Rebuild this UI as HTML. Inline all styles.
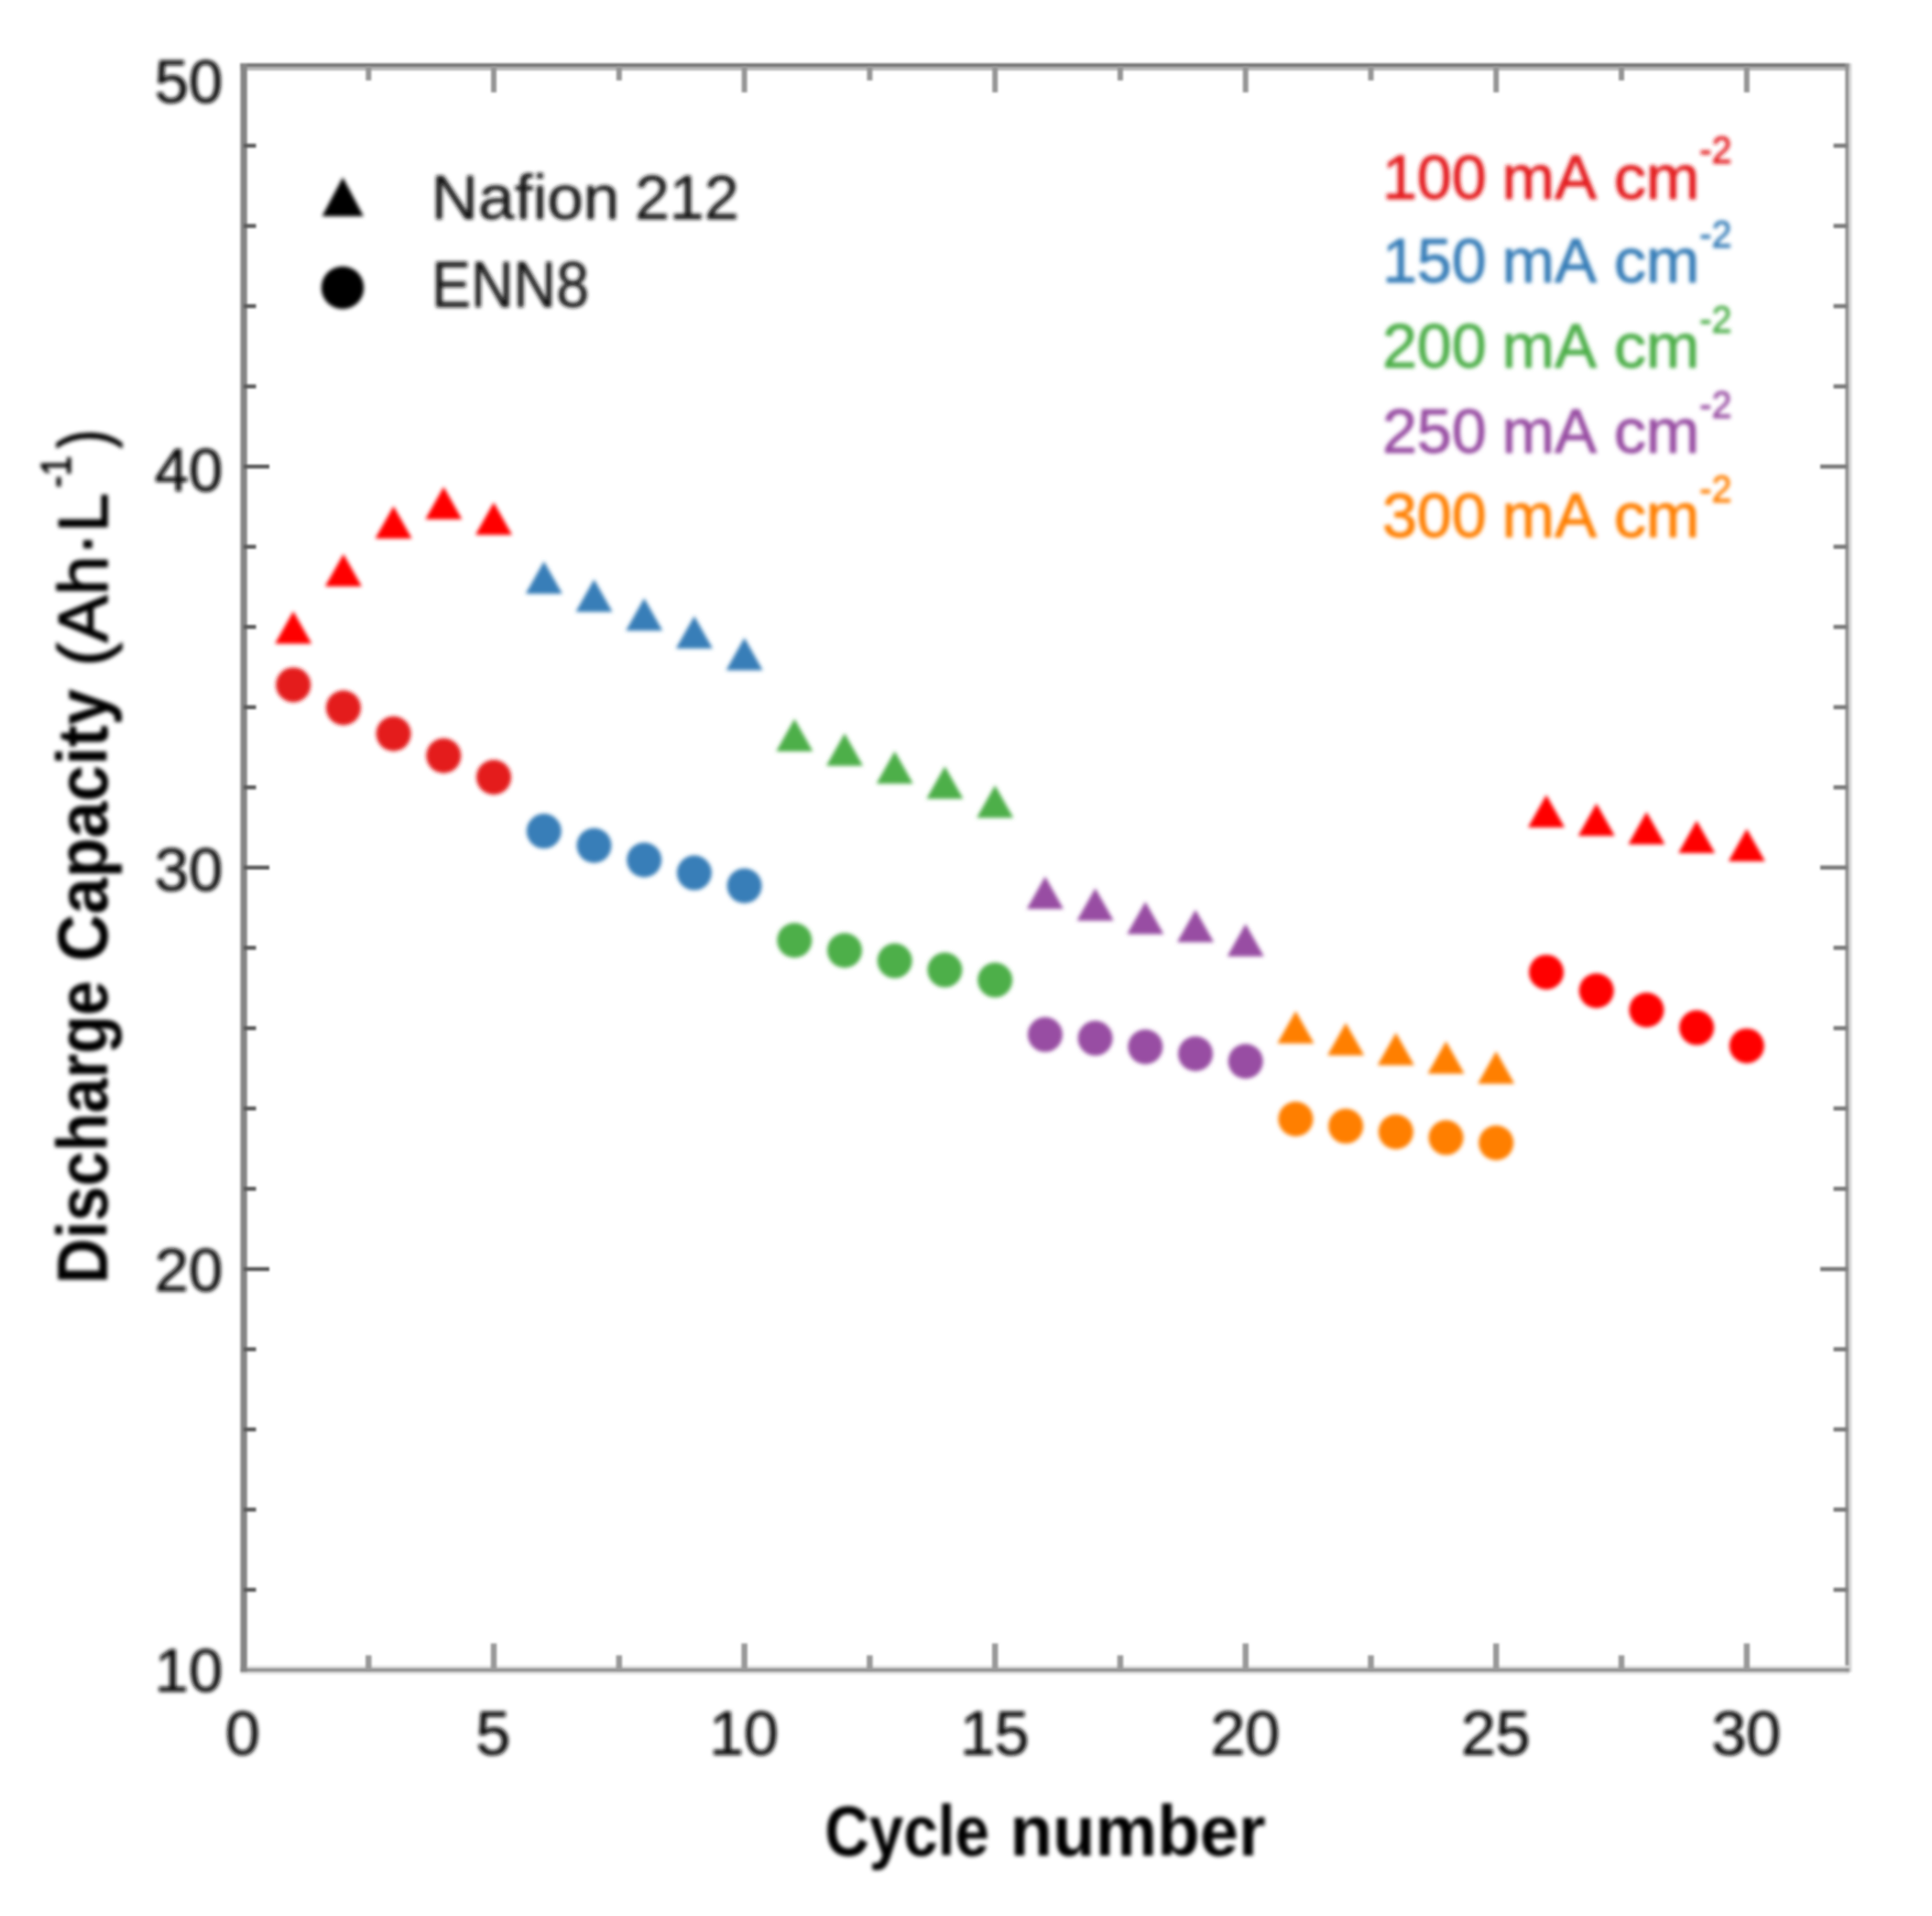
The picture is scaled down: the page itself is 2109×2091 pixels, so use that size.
<!DOCTYPE html>
<html lang="en"><head><meta charset="utf-8"><title>Discharge Capacity vs Cycle number</title>
<style>html,body{margin:0;padding:0;background:#fff}body{width:2109px;height:2091px;overflow:hidden}svg{display:block}</style>
</head><body>
<svg width="2109" height="2091" viewBox="0 0 2109 2091" font-family="'Liberation Sans', Arial, sans-serif">
<defs><filter id="bl" x="-2%" y="-2%" width="104%" height="104%"><feGaussianBlur stdDeviation="2.0"/></filter><filter id="bf" x="-2%" y="-2%" width="104%" height="104%"><feGaussianBlur stdDeviation="0.9"/></filter><filter id="bt" x="-2%" y="-2%" width="104%" height="104%"><feGaussianBlur stdDeviation="1.2"/></filter></defs>
<rect width="2109" height="2091" fill="#fff"/>
<g id="frame" filter="url(#bf)">
<rect x="262.4" y="69" width="1756.3" height="4.6" fill="#777"/>
<rect x="262.4" y="73.6" width="1756.3" height="3.4" fill="#b8b8b8"/>
<rect x="2014.3" y="69" width="4.2" height="1756.0" fill="#929292"/>
<rect x="2018.8" y="69" width="2.6" height="1756.0" fill="#d8d8d8"/>
<rect x="262.4" y="1820.2" width="1756.4" height="4.6" fill="#919191"/>
<rect x="262.4" y="1817.7" width="1756.4" height="2.5" fill="#e4e4e4"/>
<rect x="262.4" y="1824.8" width="1756.4" height="2.5" fill="#e4e4e4"/>
<rect x="262.4" y="69" width="7.4" height="1756.0" fill="#868686"/>
</g>
<g id="ticks" filter="url(#bt)">
<line x1="266.0" y1="1735.0" x2="279.5" y2="1735.0" stroke="#5a5a5a" stroke-width="4.4"/>
<line x1="2016.5" y1="1735.0" x2="2001.5" y2="1735.0" stroke="#7a7a7a" stroke-width="4.6"/>
<line x1="266.0" y1="1647.5" x2="279.5" y2="1647.5" stroke="#5a5a5a" stroke-width="4.4"/>
<line x1="2016.5" y1="1647.5" x2="2001.5" y2="1647.5" stroke="#7a7a7a" stroke-width="4.6"/>
<line x1="266.0" y1="1560.0" x2="279.5" y2="1560.0" stroke="#5a5a5a" stroke-width="4.4"/>
<line x1="2016.5" y1="1560.0" x2="2001.5" y2="1560.0" stroke="#7a7a7a" stroke-width="4.6"/>
<line x1="266.0" y1="1472.5" x2="279.5" y2="1472.5" stroke="#5a5a5a" stroke-width="4.4"/>
<line x1="2016.5" y1="1472.5" x2="2001.5" y2="1472.5" stroke="#7a7a7a" stroke-width="4.6"/>
<line x1="266.0" y1="1385.0" x2="294.0" y2="1385.0" stroke="#5a5a5a" stroke-width="4.4"/>
<line x1="2016.5" y1="1385.0" x2="1987.0" y2="1385.0" stroke="#7a7a7a" stroke-width="4.6"/>
<line x1="266.0" y1="1297.4" x2="279.5" y2="1297.4" stroke="#5a5a5a" stroke-width="4.4"/>
<line x1="2016.5" y1="1297.4" x2="2001.5" y2="1297.4" stroke="#7a7a7a" stroke-width="4.6"/>
<line x1="266.0" y1="1209.7" x2="279.5" y2="1209.7" stroke="#5a5a5a" stroke-width="4.4"/>
<line x1="2016.5" y1="1209.7" x2="2001.5" y2="1209.7" stroke="#7a7a7a" stroke-width="4.6"/>
<line x1="266.0" y1="1122.1" x2="279.5" y2="1122.1" stroke="#5a5a5a" stroke-width="4.4"/>
<line x1="2016.5" y1="1122.1" x2="2001.5" y2="1122.1" stroke="#7a7a7a" stroke-width="4.6"/>
<line x1="266.0" y1="1034.4" x2="279.5" y2="1034.4" stroke="#5a5a5a" stroke-width="4.4"/>
<line x1="2016.5" y1="1034.4" x2="2001.5" y2="1034.4" stroke="#7a7a7a" stroke-width="4.6"/>
<line x1="266.0" y1="946.8" x2="294.0" y2="946.8" stroke="#5a5a5a" stroke-width="4.4"/>
<line x1="2016.5" y1="946.8" x2="1987.0" y2="946.8" stroke="#7a7a7a" stroke-width="4.6"/>
<line x1="266.0" y1="859.3" x2="279.5" y2="859.3" stroke="#5a5a5a" stroke-width="4.4"/>
<line x1="2016.5" y1="859.3" x2="2001.5" y2="859.3" stroke="#7a7a7a" stroke-width="4.6"/>
<line x1="266.0" y1="771.8" x2="279.5" y2="771.8" stroke="#5a5a5a" stroke-width="4.4"/>
<line x1="2016.5" y1="771.8" x2="2001.5" y2="771.8" stroke="#7a7a7a" stroke-width="4.6"/>
<line x1="266.0" y1="684.2" x2="279.5" y2="684.2" stroke="#5a5a5a" stroke-width="4.4"/>
<line x1="2016.5" y1="684.2" x2="2001.5" y2="684.2" stroke="#7a7a7a" stroke-width="4.6"/>
<line x1="266.0" y1="596.7" x2="279.5" y2="596.7" stroke="#5a5a5a" stroke-width="4.4"/>
<line x1="2016.5" y1="596.7" x2="2001.5" y2="596.7" stroke="#7a7a7a" stroke-width="4.6"/>
<line x1="266.0" y1="509.2" x2="294.0" y2="509.2" stroke="#5a5a5a" stroke-width="4.4"/>
<line x1="2016.5" y1="509.2" x2="1987.0" y2="509.2" stroke="#7a7a7a" stroke-width="4.6"/>
<line x1="266.0" y1="421.7" x2="279.5" y2="421.7" stroke="#5a5a5a" stroke-width="4.4"/>
<line x1="2016.5" y1="421.7" x2="2001.5" y2="421.7" stroke="#7a7a7a" stroke-width="4.6"/>
<line x1="266.0" y1="334.1" x2="279.5" y2="334.1" stroke="#5a5a5a" stroke-width="4.4"/>
<line x1="2016.5" y1="334.1" x2="2001.5" y2="334.1" stroke="#7a7a7a" stroke-width="4.6"/>
<line x1="266.0" y1="246.6" x2="279.5" y2="246.6" stroke="#5a5a5a" stroke-width="4.4"/>
<line x1="2016.5" y1="246.6" x2="2001.5" y2="246.6" stroke="#7a7a7a" stroke-width="4.6"/>
<line x1="266.0" y1="159.0" x2="279.5" y2="159.0" stroke="#5a5a5a" stroke-width="4.4"/>
<line x1="2016.5" y1="159.0" x2="2001.5" y2="159.0" stroke="#7a7a7a" stroke-width="4.6"/>
<line x1="402.3" y1="72.8" x2="402.3" y2="87.8" stroke="#959595" stroke-width="6"/>
<line x1="402.3" y1="1822.5" x2="402.3" y2="1806.5" stroke="#999" stroke-width="6.5"/>
<line x1="539.0" y1="72.8" x2="539.0" y2="100.8" stroke="#959595" stroke-width="6"/>
<line x1="539.0" y1="1822.5" x2="539.0" y2="1793.5" stroke="#999" stroke-width="6.5"/>
<line x1="675.8" y1="72.8" x2="675.8" y2="87.8" stroke="#959595" stroke-width="6"/>
<line x1="675.8" y1="1822.5" x2="675.8" y2="1806.5" stroke="#999" stroke-width="6.5"/>
<line x1="812.6" y1="72.8" x2="812.6" y2="100.8" stroke="#959595" stroke-width="6"/>
<line x1="812.6" y1="1822.5" x2="812.6" y2="1793.5" stroke="#999" stroke-width="6.5"/>
<line x1="949.4" y1="72.8" x2="949.4" y2="87.8" stroke="#959595" stroke-width="6"/>
<line x1="949.4" y1="1822.5" x2="949.4" y2="1806.5" stroke="#999" stroke-width="6.5"/>
<line x1="1086.2" y1="72.8" x2="1086.2" y2="100.8" stroke="#959595" stroke-width="6"/>
<line x1="1086.2" y1="1822.5" x2="1086.2" y2="1793.5" stroke="#999" stroke-width="6.5"/>
<line x1="1222.9" y1="72.8" x2="1222.9" y2="87.8" stroke="#959595" stroke-width="6"/>
<line x1="1222.9" y1="1822.5" x2="1222.9" y2="1806.5" stroke="#999" stroke-width="6.5"/>
<line x1="1359.7" y1="72.8" x2="1359.7" y2="100.8" stroke="#959595" stroke-width="6"/>
<line x1="1359.7" y1="1822.5" x2="1359.7" y2="1793.5" stroke="#999" stroke-width="6.5"/>
<line x1="1496.5" y1="72.8" x2="1496.5" y2="87.8" stroke="#959595" stroke-width="6"/>
<line x1="1496.5" y1="1822.5" x2="1496.5" y2="1806.5" stroke="#999" stroke-width="6.5"/>
<line x1="1633.2" y1="72.8" x2="1633.2" y2="100.8" stroke="#959595" stroke-width="6"/>
<line x1="1633.2" y1="1822.5" x2="1633.2" y2="1793.5" stroke="#999" stroke-width="6.5"/>
<line x1="1770.0" y1="72.8" x2="1770.0" y2="87.8" stroke="#959595" stroke-width="6"/>
<line x1="1770.0" y1="1822.5" x2="1770.0" y2="1806.5" stroke="#999" stroke-width="6.5"/>
<line x1="1906.8" y1="72.8" x2="1906.8" y2="100.8" stroke="#959595" stroke-width="6"/>
<line x1="1906.8" y1="1822.5" x2="1906.8" y2="1793.5" stroke="#999" stroke-width="6.5"/>
</g>
<g id="plot" filter="url(#bl)">
<polygon points="320.2,667.0 340.2,702.5 300.2,702.5" fill="#ff0000"/>
<circle cx="320.2" cy="747.4" r="19" fill="#e41a1c"/>
<polygon points="374.9,604.5 394.9,640.0 354.9,640.0" fill="#ff0000"/>
<circle cx="374.9" cy="772.5" r="19" fill="#e41a1c"/>
<polygon points="429.6,552.3 449.6,587.8 409.6,587.8" fill="#ff0000"/>
<circle cx="429.6" cy="800.7" r="19" fill="#e41a1c"/>
<polygon points="484.3,531.3 504.3,566.8 464.3,566.8" fill="#ff0000"/>
<circle cx="484.3" cy="824.8" r="19" fill="#e41a1c"/>
<polygon points="539.0,548.2 559.0,583.7 519.0,583.7" fill="#ff0000"/>
<circle cx="539.0" cy="848.3" r="19" fill="#e41a1c"/>
<polygon points="593.8,612.5 613.8,648.0 573.8,648.0" fill="#377eb8"/>
<circle cx="593.8" cy="907.1" r="19" fill="#377eb8"/>
<polygon points="648.5,632.3 668.5,667.8 628.5,667.8" fill="#377eb8"/>
<circle cx="648.5" cy="922.8" r="19" fill="#377eb8"/>
<polygon points="703.2,652.7 723.2,688.2 683.2,688.2" fill="#377eb8"/>
<circle cx="703.2" cy="938.5" r="19" fill="#377eb8"/>
<polygon points="757.9,672.2 777.9,707.7 737.9,707.7" fill="#377eb8"/>
<circle cx="757.9" cy="952.6" r="19" fill="#377eb8"/>
<polygon points="812.6,696.0 832.6,731.5 792.6,731.5" fill="#377eb8"/>
<circle cx="812.6" cy="966.8" r="19" fill="#377eb8"/>
<polygon points="867.3,784.5 887.3,820.0 847.3,820.0" fill="#4daf4a"/>
<circle cx="867.3" cy="1026.3" r="19" fill="#4daf4a"/>
<polygon points="922.0,800.2 942.0,835.7 902.0,835.7" fill="#4daf4a"/>
<circle cx="922.0" cy="1037.3" r="19" fill="#4daf4a"/>
<polygon points="976.7,819.8 996.7,855.3 956.7,855.3" fill="#4daf4a"/>
<circle cx="976.7" cy="1048.6" r="19" fill="#4daf4a"/>
<polygon points="1031.4,836.2 1051.4,871.7 1011.4,871.7" fill="#4daf4a"/>
<circle cx="1031.4" cy="1058.6" r="19" fill="#4daf4a"/>
<polygon points="1086.2,856.9 1106.2,892.4 1066.2,892.4" fill="#4daf4a"/>
<circle cx="1086.2" cy="1069.6" r="19" fill="#4daf4a"/>
<polygon points="1140.9,956.4 1160.9,991.9 1120.9,991.9" fill="#984ea3"/>
<circle cx="1140.9" cy="1129.1" r="19" fill="#984ea3"/>
<polygon points="1195.6,969.2 1215.6,1004.7 1175.6,1004.7" fill="#984ea3"/>
<circle cx="1195.6" cy="1133.1" r="19" fill="#984ea3"/>
<polygon points="1250.3,984.0 1270.3,1019.5 1230.3,1019.5" fill="#984ea3"/>
<circle cx="1250.3" cy="1142.5" r="19" fill="#984ea3"/>
<polygon points="1305.0,992.8 1325.0,1028.3 1285.0,1028.3" fill="#984ea3"/>
<circle cx="1305.0" cy="1150.0" r="19" fill="#984ea3"/>
<polygon points="1359.7,1008.3 1379.7,1043.8 1339.7,1043.8" fill="#984ea3"/>
<circle cx="1359.7" cy="1158.2" r="19" fill="#984ea3"/>
<polygon points="1414.4,1103.3 1434.4,1138.8 1394.4,1138.8" fill="#ff7f00"/>
<circle cx="1414.4" cy="1221.2" r="19" fill="#ff7f00"/>
<polygon points="1469.1,1116.2 1489.1,1151.7 1449.1,1151.7" fill="#ff7f00"/>
<circle cx="1469.1" cy="1229.1" r="19" fill="#ff7f00"/>
<polygon points="1523.8,1127.1 1543.8,1162.6 1503.8,1162.6" fill="#ff7f00"/>
<circle cx="1523.8" cy="1235.3" r="19" fill="#ff7f00"/>
<polygon points="1578.5,1136.2 1598.5,1171.7 1558.5,1171.7" fill="#ff7f00"/>
<circle cx="1578.5" cy="1241.6" r="19" fill="#ff7f00"/>
<polygon points="1633.2,1147.2 1653.2,1182.7 1613.2,1182.7" fill="#ff7f00"/>
<circle cx="1633.2" cy="1247.2" r="19" fill="#ff7f00"/>
<polygon points="1688.0,867.6 1708.0,903.1 1668.0,903.1" fill="#ff0000"/>
<circle cx="1688.0" cy="1060.9" r="19" fill="#ff0000"/>
<polygon points="1742.7,876.7 1762.7,912.2 1722.7,912.2" fill="#ff0000"/>
<circle cx="1742.7" cy="1081.2" r="19" fill="#ff0000"/>
<polygon points="1797.4,886.1 1817.4,921.6 1777.4,921.6" fill="#ff0000"/>
<circle cx="1797.4" cy="1102.2" r="19" fill="#ff0000"/>
<polygon points="1852.1,895.5 1872.1,931.0 1832.1,931.0" fill="#ff0000"/>
<circle cx="1852.1" cy="1121.6" r="19" fill="#ff0000"/>
<polygon points="1906.8,904.5 1926.8,940.0 1886.8,940.0" fill="#ff0000"/>
<circle cx="1906.8" cy="1141.4" r="19" fill="#ff0000"/>
<polygon points="374.2,193.5 396.8,236 351.6,236" fill="#000"/>
<circle cx="374" cy="314" r="23.2" fill="#000"/>
</g>
<g id="txt" filter="url(#bl)" stroke-width="0.5" stroke-linejoin="round">
<text x="243.3" y="1846.4" font-size="67" text-anchor="end" fill="#0c0c0c" stroke="#0c0c0c" stroke-width="0.7">10</text>
<text x="243.3" y="1409.0" font-size="67" text-anchor="end" fill="#0c0c0c" stroke="#0c0c0c" stroke-width="0.7">20</text>
<text x="243.3" y="972.1" font-size="67" text-anchor="end" fill="#0c0c0c" stroke="#0c0c0c" stroke-width="0.7">30</text>
<text x="243.3" y="535.8" font-size="67" text-anchor="end" fill="#0c0c0c" stroke="#0c0c0c" stroke-width="0.7">40</text>
<text x="243.3" y="111.8" font-size="67" text-anchor="end" fill="#0c0c0c" stroke="#0c0c0c" stroke-width="0.7">50</text>
<text x="265.0" y="1914.6" font-size="68" text-anchor="middle" fill="#0c0c0c" stroke="#0c0c0c" stroke-width="0.7">0</text>
<text x="538.5" y="1914.6" font-size="68" text-anchor="middle" fill="#0c0c0c" stroke="#0c0c0c" stroke-width="0.7">5</text>
<text x="812.1" y="1914.6" font-size="68" text-anchor="middle" fill="#0c0c0c" stroke="#0c0c0c" stroke-width="0.7">10</text>
<text x="1085.7" y="1914.6" font-size="68" text-anchor="middle" fill="#0c0c0c" stroke="#0c0c0c" stroke-width="0.7">15</text>
<text x="1359.2" y="1914.6" font-size="68" text-anchor="middle" fill="#0c0c0c" stroke="#0c0c0c" stroke-width="0.7">20</text>
<text x="1632.8" y="1914.6" font-size="68" text-anchor="middle" fill="#0c0c0c" stroke="#0c0c0c" stroke-width="0.7">25</text>
<text x="1906.3" y="1914.6" font-size="68" text-anchor="middle" fill="#0c0c0c" stroke="#0c0c0c" stroke-width="0.7">30</text>
<text fill="#141414" stroke="#141414"><tspan x="470.6" y="239.3" font-size="68.5" textLength="205.9" lengthAdjust="spacingAndGlyphs">Nafion</tspan> <tspan x="692.9" y="239.3" font-size="68.5" textLength="113.8" lengthAdjust="spacingAndGlyphs">212</tspan></text>
<text fill="#141414" stroke="#141414"><tspan x="471.1" y="334.8" font-size="70" textLength="171.9" lengthAdjust="spacingAndGlyphs">ENN8</tspan></text>
<text fill="#e41a1c" stroke="#e41a1c" stroke-width="0.9"><tspan x="1508.9" y="216.5" font-size="68" textLength="113.9" lengthAdjust="spacingAndGlyphs">100</tspan> <tspan x="1639.5" y="216.5" font-size="68" textLength="103.5" lengthAdjust="spacingAndGlyphs">mA</tspan> <tspan x="1761.7" y="216.5" font-size="68" textLength="93.8" lengthAdjust="spacingAndGlyphs">cm</tspan><tspan x="1855.3" y="178.0" font-size="42" textLength="35.1" lengthAdjust="spacingAndGlyphs">-2</tspan></text>
<text fill="#377eb8" stroke="#377eb8" stroke-width="0.9"><tspan x="1508.9" y="308.3" font-size="68" textLength="113.9" lengthAdjust="spacingAndGlyphs">150</tspan> <tspan x="1639.5" y="308.3" font-size="68" textLength="103.5" lengthAdjust="spacingAndGlyphs">mA</tspan> <tspan x="1761.7" y="308.3" font-size="68" textLength="93.8" lengthAdjust="spacingAndGlyphs">cm</tspan><tspan x="1855.3" y="269.8" font-size="42" textLength="35.1" lengthAdjust="spacingAndGlyphs">-2</tspan></text>
<text fill="#4daf4a" stroke="#4daf4a" stroke-width="0.9"><tspan x="1508.9" y="401.3" font-size="68" textLength="113.9" lengthAdjust="spacingAndGlyphs">200</tspan> <tspan x="1639.5" y="401.3" font-size="68" textLength="103.5" lengthAdjust="spacingAndGlyphs">mA</tspan> <tspan x="1761.7" y="401.3" font-size="68" textLength="93.8" lengthAdjust="spacingAndGlyphs">cm</tspan><tspan x="1855.3" y="362.8" font-size="42" textLength="35.1" lengthAdjust="spacingAndGlyphs">-2</tspan></text>
<text fill="#984ea3" stroke="#984ea3" stroke-width="0.9"><tspan x="1508.9" y="494" font-size="68" textLength="113.9" lengthAdjust="spacingAndGlyphs">250</tspan> <tspan x="1639.5" y="494" font-size="68" textLength="103.5" lengthAdjust="spacingAndGlyphs">mA</tspan> <tspan x="1761.7" y="494" font-size="68" textLength="93.8" lengthAdjust="spacingAndGlyphs">cm</tspan><tspan x="1855.3" y="455.5" font-size="42" textLength="35.1" lengthAdjust="spacingAndGlyphs">-2</tspan></text>
<text fill="#ff7f00" stroke="#ff7f00" stroke-width="0.9"><tspan x="1508.9" y="586" font-size="68" textLength="113.9" lengthAdjust="spacingAndGlyphs">300</tspan> <tspan x="1639.5" y="586" font-size="68" textLength="103.5" lengthAdjust="spacingAndGlyphs">mA</tspan> <tspan x="1761.7" y="586" font-size="68" textLength="93.8" lengthAdjust="spacingAndGlyphs">cm</tspan><tspan x="1855.3" y="547.5" font-size="42" textLength="35.1" lengthAdjust="spacingAndGlyphs">-2</tspan></text>
<text fill="#000" stroke="#000"><tspan x="900.2" y="2024.5" font-size="78" textLength="179.8" lengthAdjust="spacingAndGlyphs" font-weight="bold" stroke-width="0">Cycle</tspan> <tspan x="1102.6" y="2024.5" font-size="78" textLength="279.1" lengthAdjust="spacingAndGlyphs" font-weight="bold" stroke-width="0">number</tspan></text>
<text fill="#000" stroke="#000" transform="translate(117,1400) rotate(-90)"><tspan x="-1.1" y="0" font-size="78" textLength="330.9" lengthAdjust="spacingAndGlyphs" font-weight="bold" stroke-width="0">Discharge</tspan> <tspan x="350.7" y="0" font-size="78" textLength="297.5" lengthAdjust="spacingAndGlyphs" font-weight="bold" stroke-width="0">Capacity</tspan> <tspan x="673.1" y="0" font-size="76" textLength="189.0" lengthAdjust="spacingAndGlyphs" stroke-width="1.5">(Ah·L</tspan><tspan x="867.8" y="-40" font-size="46" textLength="34.6" lengthAdjust="spacingAndGlyphs" stroke-width="1.2">-1</tspan><tspan x="910.9" y="0" font-size="76" textLength="20.1" lengthAdjust="spacingAndGlyphs" stroke-width="1.5">)</tspan></text>
</g>
</svg>
</body></html>
